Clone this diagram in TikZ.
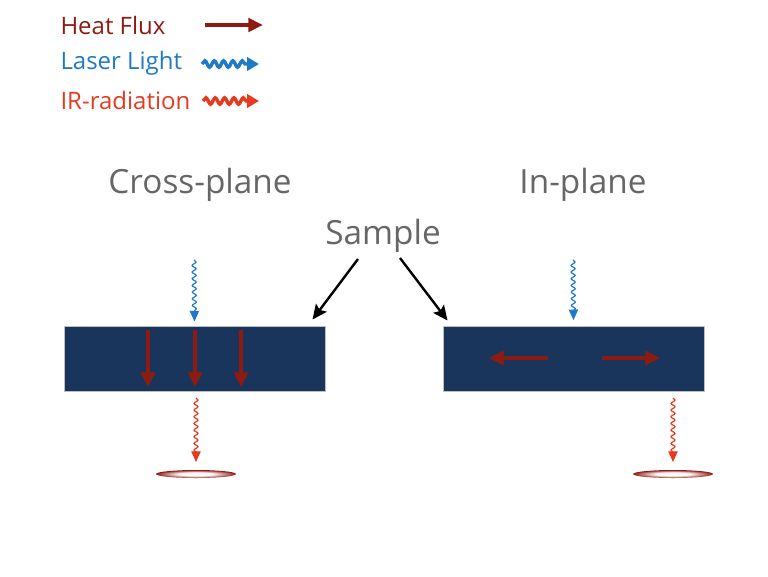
\documentclass[tikz,border=0pt]{standalone}
\usepackage{fontspec}
\setmainfont{Open Sans}
\usetikzlibrary{arrows.meta,decorations.pathmorphing,positioning}

\definecolor{heatred}{RGB}{142,27,18}
\definecolor{laserblue}{RGB}{32,121,199}
\definecolor{irred}{RGB}{230,58,31}
\definecolor{slabnavy}{RGB}{26,53,91}
\definecolor{labelgray}{RGB}{102,102,102}

\pgfdeclareradialshading{spotglow}{\pgfpoint{0bp}{0bp}}{color(0bp)=(white); color(11bp)=(white!95!heatred); color(25bp)=(heatred); color(50bp)=(heatred)}

\tikzset{every picture/.style={line width=0.75pt}}

\begin{document}
\begin{tikzpicture}[x=0.75pt,y=0.75pt,yscale=-1,xscale=1,
  slab/.style={draw=gray!50, fill=slabnavy, minimum width=195.75pt, minimum height=48.75pt, inner sep=0pt},
  title/.style={text=labelgray, font=\fontsize{25}{30}\selectfont},
  legend/.style={anchor=west, inner sep=0pt, font=\fontsize{18}{22}\selectfont},
  heatflow/.style={heatred, line width=3.7pt, -{Triangle[length=11pt,width=10.5pt]}},
  pointer/.style={black, line width=1.8pt, -{Stealth[length=11pt,width=10pt,inset=2pt]}},
  laser/.style={laserblue, line width=0.9pt, decorate, decoration={snake, amplitude=1.5pt, segment length=5pt, post length=7pt}, -{Triangle[length=8pt,width=7pt]}},
  ir/.style={irred, line width=0.9pt, decorate, decoration={snake, amplitude=1.5pt, segment length=5pt, post length=7pt}, -{Triangle[length=8pt,width=7pt]}},
  wavekey/.style={line width=2.6pt, decorate, decoration={snake, amplitude=2.4pt, segment length=7pt, post length=7pt}, -{Triangle[length=9pt,width=10pt]}},
  spot/.style={shading=spotglow}
]
\useasboundingbox (0,0) rectangle (768,576);

% legend
\node[legend, text=heatred] (keyheat) at (60,25) {Heat Flux};
\node[legend, text=laserblue] (keylaser) at (60,63) {Laser Light};
\node[legend, text=irred] (keyir) at (60,100) {IR-radiation};
\coordinate (kh1) at (205,25); \coordinate (kh2) at (263,25);
\coordinate (kl1) at (202,64); \coordinate (kl2) at (259,64);
\coordinate (ki1) at (203,101); \coordinate (ki2) at (259,101);
\draw[heatred, line width=3pt, -{Triangle[length=11pt,width=10pt]}] (kh1) -- (kh2);
\draw[wavekey, laserblue] (kl1) -- (kl2);
\draw[wavekey, irred] (ki1) -- (ki2);

% headings
\node[title] (cross) at (200,185) {Cross-plane};
\node[title] (inplane) at (583,185) {In-plane};
\node[title] (sample) at (383,236) {Sample};

% samples
\node[slab] (left) at (194.5,358.5) {};
\node[slab] (right) at (573.5,358.5) {};
\coordinate (s1) at (358,259);
\coordinate (s2) at (400,258);
\draw[pointer] (s1) -- ([xshift=-9.75pt,yshift=-4.5pt]left.north east);
\draw[pointer] (s2) -- ([xshift=3.75pt,yshift=-3.75pt]right.north west);

% cross-plane
\coordinate (lin) at (194,260);
\draw[laser] (lin) -- ([yshift=-3pt]left.north);
\foreach \x in {148,195,241}
  \draw[heatflow] (\x,330) -- (\x,387);
\coordinate (lout) at (196,398);
\coordinate (lspot) at (196,474);
\draw[ir] (lout) -- (196,462);
\shade[spot] (lspot) ellipse (40 and 4);

% in-plane
\coordinate (rin) at (573,260);
\draw[laser] (rin) -- ([yshift=-4pt]right.north);
\draw[heatflow] (548,358) -- (489,358);
\draw[heatflow] (602,358) -- (660,358);
\coordinate (rout) at (673,398);
\coordinate (rspot) at (673,474);
\draw[ir] (rout) -- (673,462);
\shade[spot] (rspot) ellipse (40 and 4);

\end{tikzpicture}
\end{document}
